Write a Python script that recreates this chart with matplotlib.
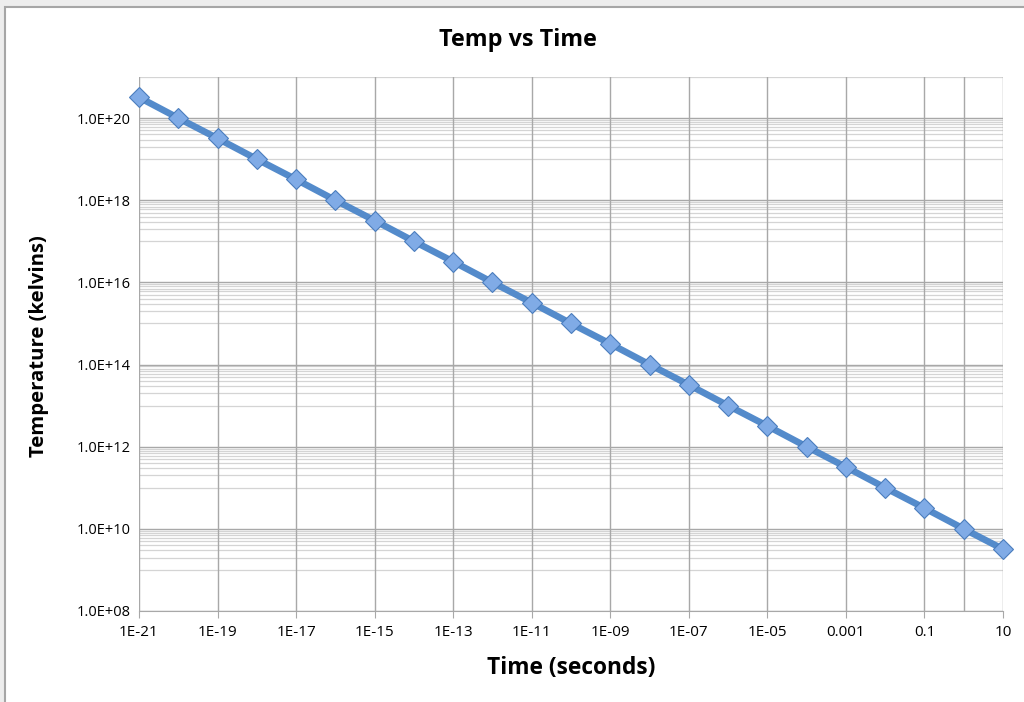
import matplotlib
matplotlib.use('Agg')
import matplotlib.pyplot as plt
import matplotlib.patches as patches
import numpy as np

plt.rcParams['font.family'] = ['Open Sans', 'DejaVu Sans']

# data (one point per decade of time)
times = [1e-21, 1e-20, 1e-19, 1e-18, 1e-17, 1e-16, 1e-15, 1e-14, 1e-13, 1e-12,
         1e-11, 1e-10, 1e-9, 1e-8, 1e-7, 1e-6, 1e-5, 1e-4, 1e-3, 1e-2,
         1e-1, 1e0, 1e1]
temps = [3.2e20, 1.0e20, 3.2e19, 1.0e19, 3.2e18, 1.0e18, 3.2e17, 1.0e17, 3.2e16, 1.0e16,
         3.2e15, 1.0e15, 3.2e14, 1.0e14, 3.2e13, 1.0e13, 3.2e12, 1.0e12, 3.2e11, 1.0e11,
         3.2e10, 1.0e10, 3.2e9]

x_ticks = [1e-21, 1e-19, 1e-17, 1e-15, 1e-13, 1e-11, 1e-9, 1e-7, 1e-5, 1e-3, 1e-1, 1e1]
x_labels = ['1E-21', '1E-19', '1E-17', '1E-15', '1E-13', '1E-11', '1E-09', '1E-07',
            '1E-05', '0.001', '0.1', '10']
y_ticks = [1e8, 1e10, 1e12, 1e14, 1e16, 1e18, 1e20]
y_labels = ['1.0E+08', '1.0E+10', '1.0E+12', '1.0E+14', '1.0E+16', '1.0E+18', '1.0E+20']

W, H = 1024, 702
fig = plt.figure(figsize=(W / 100, H / 100), dpi=100, facecolor='#ededed')

# chart area box (runs off the right and bottom of the picture)
fig.patches.append(patches.Rectangle((5 / W, -0.1), 1.2, 1.1 - 7 / H,
                                     transform=fig.transFigure, facecolor='white',
                                     edgecolor='#a6a6a6', linewidth=1.5, zorder=-5))

ax = fig.add_axes([139 / W, (H - 611) / H, 864 / W, 534 / H])
ax.set_zorder(2)
ax.set_facecolor('none')
ax.set_xscale('log')
ax.set_yscale('log')
ax.set_xlim(1e-21, 1e1)
ax.set_ylim(1e8, 1e21)

# horizontal grid: minor lines at k*10^odd, major at even decades
minor_y = [k * 10.0 ** e for e in range(9, 22, 2) for k in range(1, 10)]
for v in minor_y:
    if v <= 1e21:
        ax.axhline(v, color='#d4d4d4', linewidth=0.9, zorder=1)
for v in y_ticks:
    ax.axhline(v, color='#a8a8a8', linewidth=1.0, zorder=1)
# vertical grid
for v in x_ticks + [1e0]:
    ax.axvline(v, color='#a8a8a8', linewidth=1.0, zorder=1)

ax.plot(times, temps, color='#548bcb', linewidth=4.8, marker='D', markersize=10,
        markerfacecolor='#80abe6', markeredgecolor='#4a7dbd', markeredgewidth=0.8,
        zorder=3, clip_on=False)

ax.set_xticks(x_ticks)
ax.set_xticklabels(x_labels)
ax.set_yticks(y_ticks)
ax.set_yticklabels(y_labels)
ax.xaxis.set_minor_locator(matplotlib.ticker.NullLocator())
ax.yaxis.set_minor_locator(matplotlib.ticker.NullLocator())
ax.tick_params(axis='x', length=5, color='#a8a8a8', labelsize=11, pad=5)
ax.tick_params(axis='y', length=0, labelsize=10.5, pad=6)

for s in ['top', 'right', 'left']:
    ax.spines[s].set_visible(False)
ax.spines['bottom'].set_color('#a8a8a8')

fig.text(518 / W, 1 - 40 / H, 'Temp vs Time', ha='center', va='center',
         fontsize=16.8, fontweight='bold')
fig.text(571 / W, 1 - 668 / H, 'Time (seconds)', ha='center', va='center',
         fontsize=16.4, fontweight='bold')
fig.text(39 / W, 1 - 346 / H, 'Temperature (kelvins)', ha='center', va='center',
         rotation=90, fontsize=14.6, fontweight='bold')

fig.savefig('out.png', dpi=100, facecolor=fig.get_facecolor())
